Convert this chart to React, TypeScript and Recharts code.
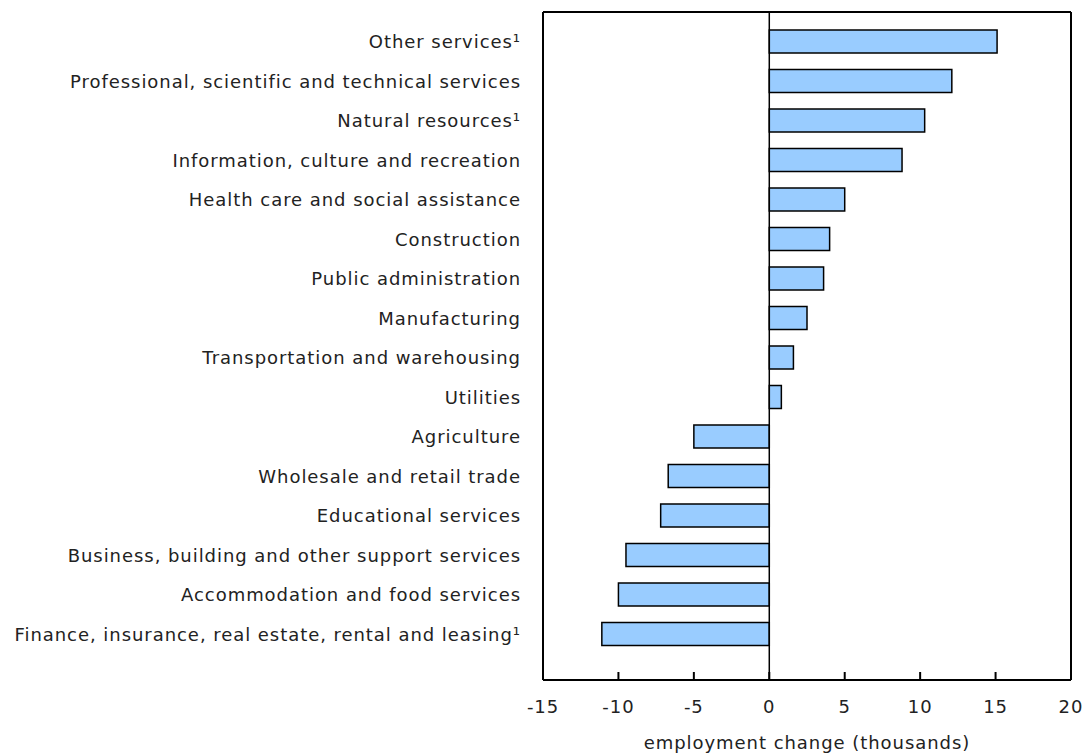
import { BarChart, Bar, XAxis, YAxis, ReferenceLine } from "recharts";

const industries = [
  "Other services¹",
  "Professional, scientific and technical services",
  "Natural resources¹",
  "Information, culture and recreation",
  "Health care and social assistance",
  "Construction",
  "Public administration",
  "Manufacturing",
  "Transportation and warehousing",
  "Utilities",
  "Agriculture",
  "Wholesale and retail trade",
  "Educational services",
  "Business, building and other support services",
  "Accommodation and food services",
  "Finance, insurance, real estate, rental and leasing¹",
];

const change = [15.1, 12.1, 10.3, 8.8, 5.0, 4.0, 3.6, 2.5, 1.6, 0.8, -5.0, -6.7, -7.2, -9.5, -10.0, -11.1];

const xTicks = [-15, -10, -5, 0, 5, 10, 15, 20];

const data = industries.map((name, i) => ({ name, value: change[i] }));

const font = "'DejaVu Sans', Verdana, sans-serif";
const textStyle = { fontSize: 18, fontFamily: font, fill: "#222", letterSpacing: 0.95 };
const lineStyle = { stroke: "#000", strokeWidth: 2 };

const XTick = (props: any) => {
  const { x, y, payload } = props;
  return (
    <g>
      <line x1={x} x2={x} y1={y} y2={y - 8} {...lineStyle} />
      <text x={x} y={y + 33} textAnchor="middle" {...textStyle}>
        {payload.value}
      </text>
    </g>
  );
};

export default function App() {
  return (
    <div style={{ position: "absolute", left: 0, top: 0, width: 1085, height: 755, overflow: "hidden" }}>
      <BarChart
        width={1085}
        height={755}
        layout="vertical"
        data={data}
        margin={{ top: 11, right: 13, bottom: 0, left: 0 }}
        style={{ overflow: "visible" }}
      >
        <XAxis
          type="number"
          domain={[-15, 20]}
          ticks={xTicks}
          interval={0}
          height={75}
          tickLine={false}
          tickSize={0}
          tickMargin={0}
          axisLine={lineStyle}
          tick={<XTick />}
          label={{
            value: "employment change (thousands)",
            position: "insideBottom",
            offset: 6,
            ...textStyle,
          }}
        />
        <XAxis
          xAxisId="top"
          orientation="top"
          type="number"
          domain={[-15, 20]}
          height={1}
          tick={false}
          tickLine={false}
          axisLine={lineStyle}
        />
        <YAxis
          type="category"
          dataKey="name"
          width={543}
          interval={0}
          tickLine={false}
          tickMargin={16}
          padding={{ top: 10, bottom: 26 }}
          axisLine={lineStyle}
          tick={textStyle}
        />
        <YAxis
          yAxisId="right"
          orientation="right"
          type="category"
          dataKey="name"
          width={1}
          tick={false}
          tickLine={false}
          axisLine={lineStyle}
        />
        <ReferenceLine x={0} stroke="#000" strokeWidth={1.5} />
        <Bar
          dataKey="value"
          fill="#99ccff"
          stroke="#000"
          strokeWidth={1.5}
          barSize={23}
          isAnimationActive={false}
        />
      </BarChart>
    </div>
  );
}
